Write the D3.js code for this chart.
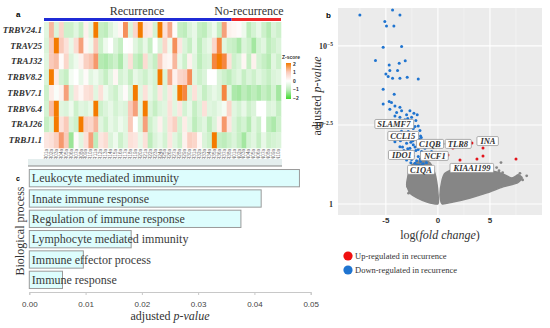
<!DOCTYPE html>
<meta charset="utf-8">
<style>
body { margin: 0; background: #fff; }
svg { display: block; }
.serif { font-family: "Liberation Serif", "DejaVu Serif", serif; }
.sans { font-family: "Liberation Sans", Arial, sans-serif; }
</style>
<body>
<script src="https://d3js.org/d3.v7.min.js"></script>
<script>

// ---------------- panel a : heatmap data ----------------
var genes = ["TRBV24.1", "TRAV25", "TRAJ32", "TRBV8.2", "TRBV7.1", "TRBV6.4", "TRAJ26", "TRBJ1.1"];

var samples = ["R01","R02","R03","R04","R05","R06","R07","R08","R09","R10",
               "R11","R12","R13","R14","R15","R16","R17","R18","R19","R20",
               "R21","R22","R23","R24","R25","R26","R27","R28","R29","R30",
               "R31","R32","R33","R34","R35","R36","R37","R38",
               "N01","N02","N03","N04","N05","N06","N07","N08","N09","N10"];
var groups = ["Recurrence", "No-recurrence"];
var nRecurrence = 38;

var z_TRBV24_1 = [-0.5,1.3,-0.6,0.8,-0.8,-0.8,-0.5,-0.9,0.3,-0.5,2,-0.9,-1.0,-0.6,-0.3,0.2,1.8,-0.6,0.8,2,
                  0.5,0.4,-0.7,2,0.6,1.5,0.1,-0.9,-1.0,-0.6,-0.4,-0.9,-1.0,-0.6,-0.3,-0.9,1.6,0.3,
                  0.2,0.1,-0.3,-1.0,-0.7,-0.4,-0.8,-1.1,-0.6,-0.8];
var z_TRAV25   = [-0.6,1.0,2,1.0,0.6,-0.4,0.7,1.6,0.2,-0.3,1.0,-0.8,-0.3,0.0,-0.6,-0.9,0.0,0.05,-0.5,-0.8,
                  -0.4,-0.9,0.0,-0.6,0.8,-0.3,1.8,0.5,-0.6,-0.9,-0.4,-1.0,-0.6,-0.4,0.8,1.9,-0.5,-0.8,
                  -0.9,-1.2,-0.6,-0.8,-1.3,-0.7,-0.5,-1.0,-0.8,-0.6];
var z_TRAJ32   = [-0.5,1.0,1.2,0.1,0.8,-0.6,-0.3,0.3,0.9,1.1,1.7,-1.1,-1.2,-1.0,-0.8,-1.2,-0.5,0.6,-0.9,-1.1,
                  0.7,-0.6,-0.9,1.0,0.3,0.2,1.3,-0.4,-0.8,0.3,-0.5,-1.0,-0.7,-0.6,1.9,2,1.9,0.6,
                  -0.8,-0.6,0.2,-0.9,0.3,-0.7,-0.9,-1.1,-0.5,-0.8];
var z_TRBV8_2  = [-0.6,2,0.4,-0.7,-0.9,-0.2,0.0,-0.4,0.1,-0.5,-0.3,-0.6,-0.9,-0.5,0.2,-0.7,-0.5,-0.9,-0.4,-0.6,
                  -0.8,-0.5,-0.7,2,-0.6,1.5,0.3,0.8,0.9,1.8,-0.5,-0.8,-0.6,0.0,0.0,-0.6,-0.8,-1.0,
                  -0.7,-0.5,-0.9,-0.6,-0.8,-0.5,-0.7,-0.9,-0.6,-0.5];
var z_TRBV7_1  = [-0.8,0.4,-0.1,0.3,1.6,-0.6,0.5,0.2,0.6,0.7,-0.5,0.6,-0.3,-0.6,-0.8,-0.4,0.1,-0.6,2,-0.5,
                  0.6,-0.4,-0.7,0.5,-0.6,0.5,-0.5,2,1.9,-0.6,0.6,-0.5,-0.9,-0.6,-0.4,-0.6,1.9,-0.5,
                  -1.2,-1.3,-1.0,-1.2,-1.0,-1.2,-0.9,-1.1,-0.7,-1.3];
var z_TRBV6_4  = [-0.7,1.2,2,-0.5,-0.6,-0.3,-0.8,-0.5,-0.6,-0.4,2,-0.8,-0.6,-0.4,-0.7,-0.5,-0.6,1.0,1.6,-0.5,
                  2,-0.6,-0.9,-0.6,-0.5,0.6,-0.5,0.5,-0.7,-0.4,-0.9,-0.6,0.6,-0.5,-0.6,-0.4,-0.2,0.8,
                  -0.5,-0.7,-0.4,-0.8,-0.6,0.0,0.0,-0.6,-0.5,-0.9];
var z_TRAJ26   = [-0.9,-0.6,2,0.6,1.0,-0.6,-0.8,2,0.9,0.8,1.3,-0.5,-0.8,-0.4,-0.6,-0.3,-0.5,1.0,0.0,-0.6,
                  1.6,-0.8,-0.5,0.3,-0.6,0.6,0.9,-0.7,0.4,-0.5,-1.0,-0.7,-0.5,-1.0,-0.6,0.3,1.7,0.5,
                  -0.6,-0.9,-0.7,-1.1,-0.5,-0.8,0.0,-1.0,-1.2,-0.8];
var z_TRBJ1_1  = [0.5,0.6,0.9,1.7,1.0,-1.4,0.1,-0.5,0.6,1.6,-1.0,0.5,0.7,-0.6,-0.3,-0.8,-0.5,0.6,0.5,-0.4,
                  0.6,-1.0,-0.6,-0.4,-0.7,0.5,-0.5,-0.8,0.3,0.9,0.8,0.2,-0.6,-0.8,2,-0.9,-1.0,-0.8,
                  -0.6,-0.9,-1.3,-0.7,-0.5,-0.9,-0.4,-0.8,-0.7,-0.6];
var zRows = [z_TRBV24_1, z_TRAV25, z_TRAJ32, z_TRBV8_2, z_TRBV7_1, z_TRBV6_4, z_TRAJ26, z_TRBJ1_1];
var zTicks = [2, 1, 0, -1, -2];

// ---------------- panel b : volcano data [logFC, -log10 padj] ----------------
var downReg = [[-7.5,5.98],[-4.36,6.14],[-3.65,5.98],[-5.1,5.77],[-4.94,5.63],[-4.23,5.63],[-3.49,4.98],
  [-5.26,4.96],[-6.0,4.54],[-3.14,4.53],[-3.72,4.45],[-4.68,4.40],[-4.62,4.22],[-3.88,4.22],[-5.0,4.11],
  [-4.78,4.03],[-4.36,3.98],[-3.65,3.98],[-2.95,4.01],[-1.89,3.95],[-5.26,3.63],[-4.2,3.47],[-4.68,3.24],
  [-4.46,3.21],[-5.26,3.16],[-4.13,3.10],[-3.65,3.06],[-4.62,3.0],[-3.49,2.95],[-2.69,2.95],[-2.31,2.87],
  [-3.97,2.89],[-3.01,2.82],[-1.99,2.82],[-4.13,2.78],[-3.65,2.74],[-2.53,2.74],[-3.17,2.66],[-2.12,2.64],
  [-4.29,2.57],[-2.69,2.53],[-1.89,2.47],[-3.40,2.43],[-2.37,2.39],[-1.73,2.32],[-2.85,2.29],[-3.97,2.24],
  [-2.21,2.22],[-1.67,2.15],[-2.69,2.11],[-3.33,2.05],[-1.99,2.03],[-4.13,1.97],[-1.57,1.97],[-3.01,1.92],
  [-2.37,1.87],[-3.65,1.81],[-1.79,1.81],[-2.69,1.76],[-1.25,1.76],[-3.27,1.69],[-2.12,1.69],[-1.57,1.66],
  [-1.09,1.62],[-2.85,1.58],[-2.37,1.52],[-1.89,1.50],[-1.41,1.48],[-0.77,1.50],[-2.53,1.41],[-2.05,1.37],
  [-1.67,1.34],[-1.15,1.39],[-2.21,1.29],[-1.79,1.23],[-1.41,1.27],[-3.01,1.39],[-3.17,1.55],[-0.61,1.66],
  [-2.0,2.2],[-1.6,2.1],[-1.3,1.9],[-2.6,1.95],[-2.2,1.8],[-1.9,1.72],[-1.5,1.6],[-2.9,1.75],[-3.4,1.8],
  [-1.0,1.45],[-0.9,1.55],[-1.3,1.45],[-1.7,1.42],[-2.7,1.45],[-3.0,1.6],[-2.4,1.62],[-1.1,1.3],[-1.5,1.25],
  [-2.0,1.23],[-2.6,1.3],[-3.5,2.3],[-3.8,2.45],[-2.5,2.55],[-2.9,2.7],[-3.3,2.15],[-2.2,2.45],[-1.8,2.05],
  [-2.4,2.0],[-3.6,2.0],[-4.4,2.2]];
var upReg = [[3.27,1.93],[4.33,1.77],[4.33,1.52],[3.75,1.42],[2.12,1.39],[7.5,1.42],[1.44,1.77],[0.96,1.55]];

// dense cloud of non significant genes (outline of the two lobes)
var cloudLeft = [[0,0],[-1.06,0.06],[-2.0,0.19],[-2.7,0.35],[-3.0,0.6],[-2.9,0.85],[-2.7,1.17],[-2.2,1.3],
  [-1.45,1.4],[-0.77,1.3],[-0.3,0.98],[-0.1,0.66],[0,0.35]];
var cloudRight = [[0.2,0.28],[0.4,0.76],[0.7,0.98],[1.8,1.14],[3.4,1.17],[4.7,1.08],[6.0,0.98],[7.1,0.82],
  [7.7,0.92],[8.1,0.82],[7.6,0.66],[6.25,0.54],[4.7,0.35],[3.1,0.19],[1.45,0.06],[0.4,0]];
var nsScatter = [[6.06,1.31],[5.64,1.15],[5.87,1.05],[6.22,0.99],[7.88,0.97],[7.66,0.86],[8.53,0.89],
  [8.14,0.76],[7.18,0.76],[-2.69,0.71],[-2.92,0.55],[-2.82,0.34]];

// gene labels: name and label centre in data units
var labelled = [["SLAMF7",-4.23,2.53],["CCL15",-3.37,2.15],["C1QB",-0.77,1.90],["TLR8",1.92,1.90],
  ["INA",4.81,1.99],["IDO1",-3.46,1.55],["NCF1",-0.29,1.52],["C1QA",-1.63,1.08],["KIAA1199",3.27,1.14]];

var volcanoXTicks = [-5, 0, 5];
var volcanoYTicks = [0, 2.5, 5];
var volcanoYLabels = [["1",""], ["10","\u22122.5"], ["10","\u22125"]];
var legendItems = ["Up-regulated in recurrence", "Down-regulated in recurrence"];

// ---------------- panel c : GO bar data ----------------
var processes = ["Leukocyte mediated immunity", "Innate immune response", "Regulation of immune response",
                 "Lymphocyte mediated immunity", "Immune effector process", "Immune response"];
var padj = [0.048, 0.0412, 0.0376, 0.0181, 0.0096, 0.0059];
var barTicks = [0, 0.01, 0.02, 0.03, 0.04, 0.05];


var svg = d3.select("body").append("svg")
    .attr("width", 550)
    .attr("height", 328);

var defs = svg.append("defs");

// ===================== heatmap =====================
var hx = d3.scaleBand().domain(samples).range([44, 281]);
var hy = d3.scaleBand().domain(genes).range([22, 148]);
var zColor = d3.scaleLinear().domain([-2, 0, 2]).range(["#3fd92c", "#ffffff", "#f47b00"])
    .interpolate(d3.interpolateRgb.gamma(2.2)).clamp(true);

svg.append("text").attr("class", "sans").attr("x", 16).attr("y", 17)
    .style("font-size", "8px").style("font-weight", "bold").text("a");

zRows.forEach(function(row, i) {
    svg.append("g").selectAll("rect")
        .data(row)
        .enter().append("rect")
        .attr("x", function(d, j) { return hx(samples[j]); })
        .attr("y", hy(genes[i]))
        .attr("width", hx.bandwidth() + 0.3)
        .attr("height", hy.bandwidth() + 0.3)
        .attr("fill", function(d) { return zColor(d); });
});

// group bars + titles
svg.append("rect").attr("x", hx(samples[0])).attr("y", 18)
    .attr("width", hx(samples[nRecurrence]) - hx(samples[0])).attr("height", 3).attr("fill", "#1f2bd6");
svg.append("rect").attr("x", hx(samples[nRecurrence])).attr("y", 18)
    .attr("width", hx.range()[1] - hx(samples[nRecurrence])).attr("height", 3).attr("fill", "#f0282a");
svg.append("text").attr("class", "serif").attr("x", 137).attr("y", 15)
    .attr("text-anchor", "middle").style("font-size", "12px").attr("fill", "#333").text(groups[0]);
svg.append("text").attr("class", "serif").attr("x", 249).attr("y", 15)
    .attr("text-anchor", "middle").style("font-size", "12px").attr("fill", "#333").text(groups[1]);

// row labels
svg.append("g").selectAll("text")
    .data(genes)
    .enter().append("text")
    .attr("class", "serif")
    .attr("x", 42)
    .attr("y", function(d) { return hy(d) + hy.bandwidth() / 2 + 3; })
    .attr("text-anchor", "end")
    .style("font-size", "9px").style("font-weight", "bold").style("font-style", "italic")
    .attr("fill", "#333")
    .text(function(d) { return d; });

// column labels (tiny)
svg.append("g").selectAll("text")
    .data(samples)
    .enter().append("text")
    .attr("class", "sans")
    .attr("transform", function(d) { return "translate(" + (hx(d) + hx.bandwidth() / 2 + 1.5) + ",149) rotate(-90)"; })
    .attr("text-anchor", "end")
    .style("font-size", "4.6px")
    .attr("fill", "#666")
    .text(function(d) { return d + "a"; });

// z-score legend
var grad = defs.append("linearGradient").attr("id", "zgrad")
    .attr("x1", "0").attr("y1", "0").attr("x2", "0").attr("y2", "1");
[2, 1, 0, -1, -2].forEach(function(v, i) {
    grad.append("stop").attr("offset", (i * 25) + "%").attr("stop-color", zColor(v));
});
var zy = d3.scaleLinear().domain([-2, 2]).range([98, 64]);
svg.append("rect").attr("x", 286).attr("y", zy(2) - 1).attr("width", 5)
    .attr("height", zy(-2) - zy(2) + 2).attr("fill", "url(#zgrad)");
svg.append("text").attr("class", "sans").attr("x", 282).attr("y", 59)
    .style("font-size", "5px").style("font-weight", "bold").attr("fill", "#333").text("Z-score");
svg.append("g").selectAll("text")
    .data(zTicks)
    .enter().append("text")
    .attr("class", "sans")
    .attr("x", 293)
    .attr("y", function(d) { return zy(d) + 1.8; })
    .style("font-size", "5px").style("font-weight", "bold").attr("fill", "#333")
    .text(function(d) { return d < 0 ? "\u2212" + (-d) : d; });

// strip above panel c
svg.append("rect").attr("x", 28).attr("y", 159).attr("width", 254).attr("height", 7).attr("fill", "#e4eeee");
svg.append("line").attr("x1", 28).attr("x2", 282).attr("y1", 166).attr("y2", 166)
    .attr("stroke", "#888").attr("stroke-width", 1);

// ===================== volcano =====================
var vx = d3.scaleLinear().domain([-9.6, 10]).range([338, 542]);
var vy = d3.scaleLinear().domain([-0.35, 6.2]).range([215, 8]);

svg.append("rect").attr("x", vx.range()[0]).attr("y", vy.range()[1])
    .attr("width", vx.range()[1] - vx.range()[0]).attr("height", vy.range()[0] - vy.range()[1])
    .attr("fill", "#ebebeb");

var grid = svg.append("g");
[-7.5, -2.5, 2.5, 7.5].forEach(function(t) {
    grid.append("line").attr("x1", vx(t)).attr("x2", vx(t)).attr("y1", 8).attr("y2", 215)
        .attr("stroke", "#f7f7f7").attr("stroke-width", 0.6);
});
[1.25, 3.75].forEach(function(t) {
    grid.append("line").attr("x1", 338).attr("x2", 542).attr("y1", vy(t)).attr("y2", vy(t))
        .attr("stroke", "#f7f7f7").attr("stroke-width", 0.6);
});
volcanoXTicks.forEach(function(t) {
    grid.append("line").attr("x1", vx(t)).attr("x2", vx(t)).attr("y1", 8).attr("y2", 215)
        .attr("stroke", "#fff").attr("stroke-width", 1.1);
});
volcanoYTicks.forEach(function(t) {
    grid.append("line").attr("x1", 338).attr("x2", 542).attr("y1", vy(t)).attr("y2", vy(t))
        .attr("stroke", "#fff").attr("stroke-width", 1.1);
});

var cloudLine = d3.line()
    .x(function(d) { return vx(d[0]); })
    .y(function(d) { return vy(d[1]); })
    .curve(d3.curveCardinalClosed.tension(0.4));
svg.append("path").attr("d", cloudLine(cloudLeft)).attr("fill", "#868686").attr("stroke", "#868686").attr("stroke-width", 1.5);
svg.append("path").attr("d", cloudLine(cloudRight)).attr("fill", "#868686").attr("stroke", "#868686").attr("stroke-width", 1.5);

svg.append("g").selectAll("circle")
    .data(nsScatter)
    .enter().append("circle")
    .attr("cx", function(d) { return vx(d[0]); })
    .attr("cy", function(d) { return vy(d[1]); })
    .attr("r", 1.4).attr("fill", "#868686");

svg.append("g").selectAll("circle")
    .data(downReg)
    .enter().append("circle")
    .attr("cx", function(d) { return vx(d[0]); })
    .attr("cy", function(d) { return vy(d[1]); })
    .attr("r", 1.5).attr("fill", "#1f74d0");

svg.append("g").selectAll("circle")
    .data(upReg)
    .enter().append("circle")
    .attr("cx", function(d) { return vx(d[0]); })
    .attr("cy", function(d) { return vy(d[1]); })
    .attr("r", 1.5).attr("fill", "#e3141b");

// connector TLR8
svg.append("line").attr("x1", vx(-0.77) + 12).attr("x2", vx(1.92) - 11)
    .attr("y1", vy(1.90)).attr("y2", vy(1.90)).attr("stroke", "#777").attr("stroke-width", 0.6);

// gene label boxes
var lab = svg.append("g").selectAll("g")
    .data(labelled)
    .enter().append("g")
    .attr("transform", function(d) { return "translate(" + vx(d[1]) + "," + vy(d[2]) + ")"; });
lab.append("text")
    .attr("class", "serif")
    .attr("text-anchor", "middle")
    .attr("y", 3)
    .style("font-size", "8.5px").style("font-weight", "bold").style("font-style", "italic")
    .attr("fill", "#333")
    .text(function(d) { return d[0]; });
lab.each(function() {
    var g = d3.select(this);
    var bb = g.select("text").node().getBBox();
    g.insert("rect", "text")
        .attr("x", bb.x - 2.5).attr("y", -4.5)
        .attr("width", bb.width + 5).attr("height", 9)
        .attr("rx", 1.2)
        .attr("fill", "#fff").attr("stroke", "#8c8c8c").attr("stroke-width", 0.7);
});

// axes
svg.append("g").selectAll("text")
    .data(volcanoXTicks)
    .enter().append("text")
    .attr("class", "sans")
    .attr("x", function(d) { return vx(d); })
    .attr("y", 223)
    .attr("text-anchor", "middle")
    .style("font-size", "8px").style("font-weight", "bold").attr("fill", "#333")
    .text(function(d) { return d < 0 ? "-" + (-d) : d; });

var yl = svg.append("g").selectAll("text")
    .data(volcanoYTicks)
    .enter().append("text")
    .attr("class", "serif")
    .attr("x", 333)
    .attr("y", function(d) { return vy(d) + 3; })
    .attr("text-anchor", "end")
    .style("font-size", "8px").style("font-weight", "bold").attr("fill", "#333");
yl.append("tspan").text(function(d, i) { return volcanoYLabels[i][0]; });
yl.append("tspan").attr("dy", -3).style("font-size", "5.5px").text(function(d, i) { return volcanoYLabels[i][1]; });

svg.append("text").attr("class", "sans").attr("x", 326).attr("y", 18)
    .style("font-size", "8px").style("font-weight", "bold").text("b");

var yt = svg.append("text").attr("class", "serif")
    .attr("transform", "translate(321,96) rotate(-90)")
    .attr("text-anchor", "middle")
    .style("font-size", "12px").attr("fill", "#333");
yt.append("tspan").text("adjusted ");
yt.append("tspan").style("font-style", "italic").text("p-value");

var xt = svg.append("text").attr("class", "serif")
    .attr("x", 440).attr("y", 239)
    .attr("text-anchor", "middle")
    .style("font-size", "12px").attr("fill", "#333");
xt.append("tspan").text("log(");
xt.append("tspan").style("font-style", "italic").text("fold change");
xt.append("tspan").text(")");

// legend
var legColors = ["#f01010", "#1f74d0"];
legendItems.forEach(function(d, i) {
    svg.append("circle").attr("cx", 348).attr("cy", 256 + i * 14).attr("r", 4.6).attr("fill", legColors[i]);
    svg.append("text").attr("class", "serif").attr("x", 355).attr("y", 259 + i * 14)
        .style("font-size", "8.5px").attr("fill", "#333").text(d);
});

// ===================== bar chart =====================
var bx = d3.scaleLinear().domain([0, 0.05]).range([29.3, 310.7]);
var by = d3.scaleBand().domain(processes).range([168, 290]).paddingInner(0.15).paddingOuter(0.075);

svg.append("text").attr("class", "sans").attr("x", 16).attr("y", 181)
    .style("font-size", "7px").style("font-weight", "bold").text("c");

svg.append("g").selectAll("rect")
    .data(padj)
    .enter().append("rect")
    .attr("x", bx(0))
    .attr("y", function(d, i) { return by(processes[i]); })
    .attr("width", function(d) { return bx(d) - bx(0); })
    .attr("height", by.bandwidth())
    .attr("fill", "#ddfdfd")
    .attr("stroke", "#9a9a9a")
    .attr("stroke-width", 1);

svg.append("g").selectAll("text")
    .data(processes)
    .enter().append("text")
    .attr("class", "serif")
    .attr("x", bx(0) + 2.5)
    .attr("y", function(d) { return by(d) + by.bandwidth() / 2 + 4; })
    .style("font-size", "12px").attr("fill", "#3a3a3a")
    .text(function(d) { return d; });

var bAxis = svg.append("g")
    .attr("class", "sans")
    .attr("transform", "translate(0,292)")
    .call(d3.axisBottom(bx).tickValues(barTicks).tickFormat(d3.format(".2f")).tickSize(3));
bAxis.select(".domain").attr("stroke", "#c8c8c8");
bAxis.selectAll(".tick line").attr("stroke", "#c8c8c8");
bAxis.selectAll("text").style("font-size", "8px").attr("fill", "#444").attr("dy", "1.1em");

var bt = svg.append("text").attr("class", "serif")
    .attr("x", 170).attr("y", 320)
    .attr("text-anchor", "middle")
    .style("font-size", "12px").attr("fill", "#333");
bt.append("tspan").text("adjusted ");
bt.append("tspan").style("font-style", "italic").text("p-value");

svg.append("text").attr("class", "serif")
    .attr("transform", "translate(24,231) rotate(-90)")
    .attr("text-anchor", "middle")
    .style("font-size", "12px").attr("fill", "#333")
    .text("Biological process");

</script>
</body>
